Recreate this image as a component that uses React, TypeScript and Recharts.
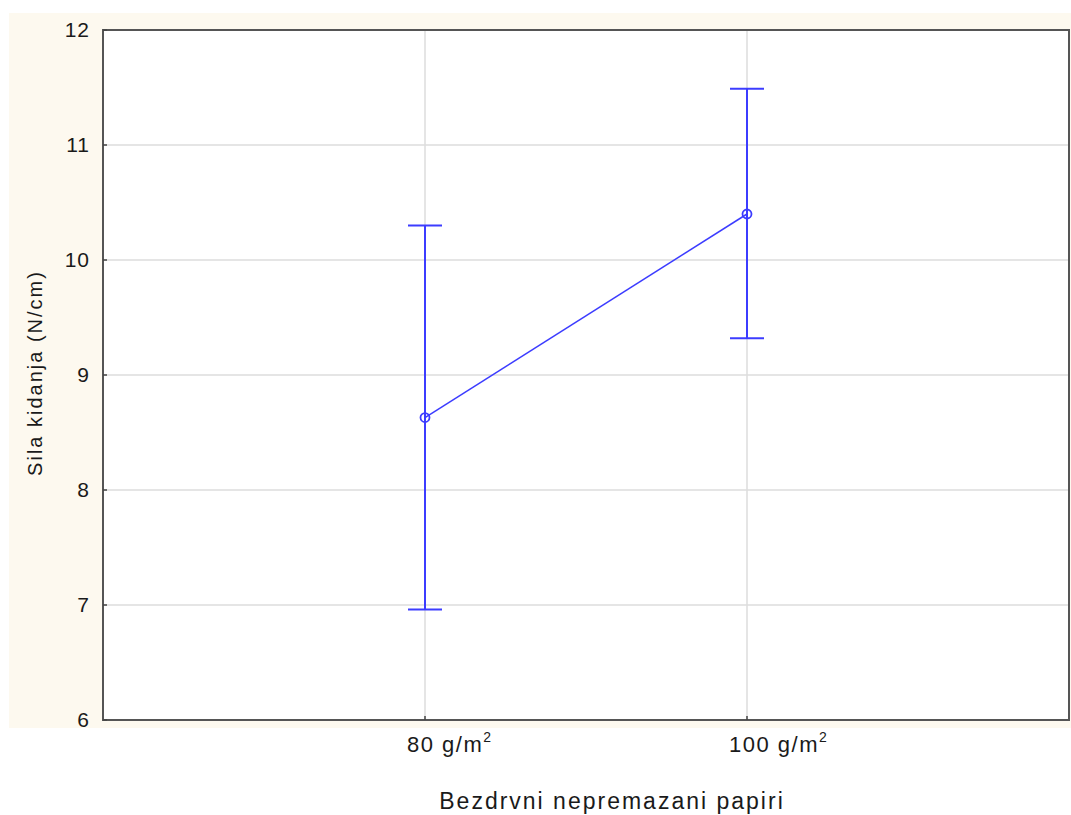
import {
  CartesianGrid,
  ComposedChart,
  ErrorBar,
  Line,
  ReferenceArea,
  XAxis,
  YAxis,
} from "recharts";

const categories = ["80 g/m²", "100 g/m²"];
const means = [8.63, 10.4];
const lowerLimits = [6.96, 9.32];
const upperLimits = [10.3, 11.49];
const yTicks = [6, 7, 8, 9, 10, 11, 12];

const xLabel = "Bezdrvni nepremazani papiri";
const yLabel = "Sila kidanja (N/cm)";

const BLUE = "#3c3cff";
const TEXT = "#1a1a1a";

const data = categories.map((label, i) => ({
  pos: i + 1,
  label,
  mean: means[i],
  err: [means[i] - lowerLimits[i], upperLimits[i] - means[i]],
}));

function XTick(props: any) {
  const { x, y, payload } = props;
  const label = categories[payload.value - 1] ?? "";
  const base = label.replace("²", "");
  return (
    <text
      x={x - 18}
      y={y + 36}
      textAnchor="start"
      fill={TEXT}
      fontSize={22}
      letterSpacing={1.5}
      fontFamily="'Liberation Sans', Arial, sans-serif"
    >
      {base}
      <tspan dy={-10} fontSize={14}>
        2
      </tspan>
    </text>
  );
}

export default function App() {
  return (
    <div
      style={{
        position: "absolute",
        left: 0,
        top: 0,
        width: 1071,
        height: 815,
        background: "#fff",
      }}
    >
      <div
        style={{
          position: "absolute",
          left: 9,
          top: 13,
          width: 1062,
          height: 715,
          background: "#fdf9ef",
        }}
      />
      <div style={{ position: "absolute", left: 0, top: 0 }}>
        <ComposedChart
          width={1071}
          height={815}
          data={data}
          margin={{ top: 30, right: 2, left: 0, bottom: 0 }}
          style={{ fontFamily: "'Liberation Sans', Arial, sans-serif" }}
        >
          <CartesianGrid
            stroke="#dcdcdc"
            strokeWidth={1.5}
            fill="#fff"
            fillOpacity={1}
          />
          <XAxis
            dataKey="pos"
            type="number"
            domain={[0, 3]}
            ticks={[1, 2]}
            height={95}
            axisLine={false}
            tickSize={-4}
            tickMargin={0}
            tickLine={{ stroke: "#444", strokeWidth: 1.5 }}
            tick={<XTick />}
            label={{
              content: (p: any) => {
                const vb = p.viewBox;
                return (
                  <text
                    x={vb.x + vb.width / 2 + 26}
                    y={809}
                    textAnchor="middle"
                    fill={TEXT}
                    fontSize={23}
                    letterSpacing={2}
                  >
                    {xLabel}
                  </text>
                );
              },
            }}
          />
          <YAxis
            type="number"
            domain={[6, 12]}
            ticks={yTicks}
            width={103}
            axisLine={false}
            tickSize={-4}
            tickMargin={17}
            tickLine={{ stroke: "#444", strokeWidth: 1.5 }}
            tick={{ fill: TEXT, fontSize: 21, letterSpacing: 1 }}
            label={{
              content: (p: any) => {
                const vb = p.viewBox;
                const cx = 35;
                const cy = vb.y + vb.height / 2 - 2;
                return (
                  <text
                    x={cx}
                    y={cy}
                    textAnchor="middle"
                    dominantBaseline="central"
                    transform={`rotate(-90, ${cx}, ${cy})`}
                    fill={TEXT}
                    fontSize={20}
                    letterSpacing={2}
                  >
                    {yLabel}
                  </text>
                );
              },
            }}
          />
          <ReferenceArea
            x1={0}
            x2={3}
            y1={6}
            y2={12}
            fill="none"
            stroke="#555"
            strokeWidth={2}
          />
          <Line
            dataKey="mean"
            stroke={BLUE}
            strokeWidth={1.5}
            isAnimationActive={false}
            dot={{ r: 4.5, stroke: BLUE, strokeWidth: 1.8, fill: "none" }}
            activeDot={false}
          >
            <ErrorBar
              dataKey="err"
              direction="y"
              width={17}
              stroke={BLUE}
              strokeWidth={2}
              isAnimationActive={false}
            />
          </Line>
        </ComposedChart>
      </div>
    </div>
  );
}
